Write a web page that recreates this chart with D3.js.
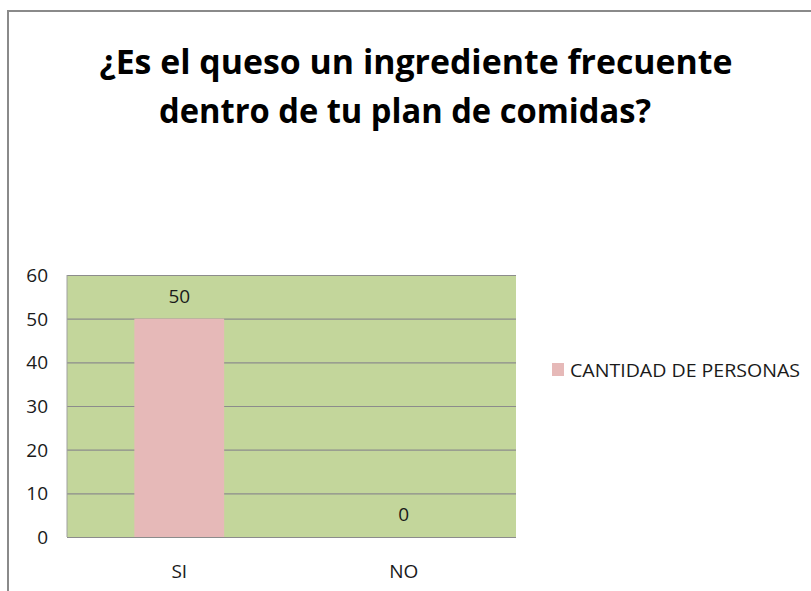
<!DOCTYPE html>
<html>
<head>
<meta charset="utf-8">
<script src="https://cdnjs.cloudflare.com/ajax/libs/d3/7.8.5/d3.min.js"></script>
<style>
  body { margin: 0; background: #fff; }
  text { font-family: 'Open Sans', 'Noto Sans', sans-serif; fill: #1a1a1a; }
</style>
</head>
<body>
<div id="chart"></div>
<script>
var categories = ['SI', 'NO'];
var values = [50, 0];
var seriesName = 'CANTIDAD DE PERSONAS';
var yTicks = [0, 10, 20, 30, 40, 50, 60];
var titleLines = ['¿Es el queso un ingrediente frecuente', 'dentro de tu plan de comidas?'];

var W = 811, H = 591;
var plot = { left: 67, top: 275, right: 516, bottom: 537 };

var svg = d3.select('#chart')
  .append('svg')
  .attr('width', W)
  .attr('height', H);

//--- OUTER BORDER (only top/left visible)
svg.append('path')
  .attr('d', 'M8,' + H + 'V11H' + W)
  .attr('fill', 'none')
  .attr('stroke', '#8a8a8a')
  .attr('stroke-width', 2);

//--- TITLE
svg.selectAll('.title')
  .data(titleLines)
  .enter().append('text')
  .attr('class', 'title')
  .attr('x', function(d, i) { return i === 0 ? 416 : 405; })
  .attr('y', function(d, i) { return 74 + i * 49; })
  .attr('text-anchor', 'middle')
  .attr('textLength', function(d, i) { return i === 0 ? 633 : 492; })
  .attr('lengthAdjust', 'spacingAndGlyphs')
  .style('font-size', '34px')
  .style('font-weight', 'bold')
  .style('fill', '#000')
  .text(function(d) { return d; });

//--- SCALES
var scaleX = d3.scaleBand()
  .domain(categories)
  .range([plot.left, plot.right])
  .paddingInner(0.6)
  .paddingOuter(0.3);

var scaleY = d3.scaleLinear()
  .domain([0, 60])
  .range([plot.bottom, plot.top]);

//--- PLOT BACKGROUND
svg.append('rect')
  .attr('x', plot.left)
  .attr('y', plot.top)
  .attr('width', plot.right - plot.left)
  .attr('height', plot.bottom - plot.top)
  .attr('fill', '#C3D69B');

//--- GRID Y LINES
svg.append('g')
  .attr('transform', 'translate(' + plot.left + ',0)')
  .call(
    d3.axisLeft(scaleY)
    .tickValues(yTicks)
    .tickSize(-(plot.right - plot.left))
    .tickFormat('')
  )
  .call(function(g) {
    g.select('.domain').remove();
    g.selectAll('line').attr('stroke', '#8c8c8c').attr('stroke-width', 1.2);
  });

svg.append('line')
  .attr('x1', plot.left).attr('x2', plot.left)
  .attr('y1', plot.top).attr('y2', plot.bottom)
  .attr('stroke', '#a0a0a0')
  .attr('stroke-width', 1);

//--- BARS
svg.selectAll('.bar')
  .data(values)
  .enter().append('rect')
  .attr('class', 'bar')
  .attr('x', function(d, i) { return scaleX(categories[i]); })
  .attr('y', function(d) { return scaleY(d); })
  .attr('width', scaleX.bandwidth())
  .attr('height', function(d) { return plot.bottom - scaleY(d); })
  .attr('fill', '#E6B9B8');

//--- DATA LABELS
svg.selectAll('.dlabel')
  .data(values)
  .enter().append('text')
  .attr('class', 'dlabel')
  .attr('x', function(d, i) { return scaleX(categories[i]) + scaleX.bandwidth() / 2; })
  .attr('y', function(d) { return scaleY(d) - 23; })
  .attr('text-anchor', 'middle')
  .attr('dominant-baseline', 'central')
  .style('font-size', '19px')
  .text(function(d) { return d; });

//--- Y AXIS LABELS
svg.selectAll('.ylabel')
  .data(yTicks)
  .enter().append('text')
  .attr('class', 'ylabel')
  .attr('x', 48)
  .attr('y', function(d) { return scaleY(d); })
  .attr('text-anchor', 'end')
  .attr('dominant-baseline', 'central')
  .style('font-size', '19px')
  .text(function(d) { return d; });

//--- X AXIS LABELS
svg.selectAll('.xlabel')
  .data(categories)
  .enter().append('text')
  .attr('class', 'xlabel')
  .attr('x', function(d) { return scaleX(d) + scaleX.bandwidth() / 2; })
  .attr('y', 571)
  .attr('text-anchor', 'middle')
  .attr('dominant-baseline', 'central')
  .style('font-size', '19px')
  .text(function(d) { return d; });

//--- LEGEND
var legend = svg.append('g')
  .attr('transform', 'translate(552,363)');

legend.append('rect')
  .attr('width', 12)
  .attr('height', 13)
  .attr('fill', '#E6B9B8');

legend.append('text')
  .attr('x', 18)
  .attr('y', 7)
  .attr('dominant-baseline', 'central')
  .attr('textLength', 230)
  .attr('lengthAdjust', 'spacingAndGlyphs')
  .style('font-size', '19px')
  .text(seriesName);
</script>
</body>
</html>
